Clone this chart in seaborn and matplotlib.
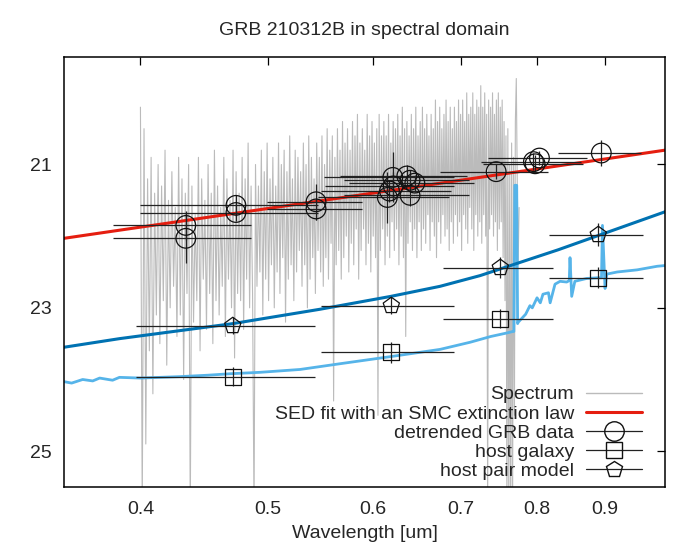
import numpy as np
import matplotlib
matplotlib.use('Agg')
import matplotlib.pyplot as plt
from matplotlib.lines import Line2D
import seaborn as sns

sns.set_theme(style='white')
plt.rcParams['font.family'] = ['Liberation Sans', 'DejaVu Sans']
plt.rcParams['font.size'] = 14

# observed spectrum (gray), evenly sampled 0.400 - 0.775 um
spec_mag = [20.2, 25.8, 20.5, 24.9, 21.2, 23.6, 20.9, 24.2, 21.4, 23.1,
            21.0, 23.5, 21.3, 22.9, 20.8, 23.8, 21.5, 23.0, 21.1, 22.7,
            21.6, 23.4, 20.9, 23.1, 21.2, 24.0, 21.4, 22.8, 21.0, 25.9,
            21.3, 23.2, 21.7, 22.9, 20.9, 23.6, 21.2, 22.6, 21.5, 23.3,
            21.0, 22.8, 21.4, 23.5, 20.8, 22.9, 21.3, 23.1, 21.6, 22.7,
            20.9, 23.4, 21.2, 22.6, 21.5, 23.0, 20.8, 23.7, 21.1, 22.8,
            21.4, 22.9, 20.9, 23.3, 21.2, 22.6, 20.7, 23.0, 21.3, 22.8,
            25.9, 21.0, 22.7, 21.3, 22.5, 20.8, 23.1, 21.1, 22.6, 20.7,
            22.9, 21.2, 22.4, 20.9, 23.0, 21.3, 22.5, 20.7, 22.8, 21.0,
            22.3, 20.8, 23.2, 21.1, 22.6, 20.6, 22.4, 21.2, 22.9, 20.8,
            22.5, 20.9, 22.2, 21.1, 22.7, 20.7, 22.4, 21.0, 23.0, 20.6,
            22.6, 20.9, 22.3, 21.2, 22.8, 20.7, 22.2, 20.9, 22.5, 20.6,
            22.7, 21.0, 22.3, 20.5, 22.6, 20.8, 22.1, 20.6, 24.3, 20.9,
            22.4, 20.5, 22.2, 20.8, 22.6, 20.4, 22.3, 20.7, 22.0, 20.5,
            22.5, 20.8, 22.1, 20.4, 22.4, 20.6, 21.9, 20.3, 22.6, 20.7,
            22.2, 20.5, 21.9, 20.8, 22.4, 20.3, 22.1, 20.6, 22.5, 20.4,
            22.0, 20.7, 22.3, 20.5, 24.5, 20.3, 22.2, 20.6, 21.9, 20.4,
            22.4, 20.6, 22.0, 20.3, 22.3, 20.7, 21.8, 20.4, 22.2, 20.5,
            21.9, 20.3, 22.4, 20.6, 22.0, 20.2, 22.3, 20.5, 23.4, 20.4,
            22.1, 20.6, 21.8, 20.3, 22.2, 20.5, 21.9, 20.2, 22.3, 20.6,
            21.8, 20.4, 22.2, 20.2, 21.9, 20.5, 22.1, 20.3, 21.7, 20.6,
            22.2, 20.3, 21.8, 20.5, 22.0, 20.1, 22.3, 20.4, 21.8, 20.2,
            22.1, 20.5, 21.7, 20.3, 22.0, 20.1, 21.9, 20.4, 22.2, 20.2,
            21.8, 20.5, 22.1, 20.2, 21.7, 20.4, 22.0, 20.1, 21.8, 20.3,
            22.2, 20.1, 21.7, 20.4, 21.9, 20.0, 22.1, 20.3, 21.6, 20.2,
            21.9, 20.0, 22.2, 20.3, 21.7, 20.1, 22.0, 20.2, 21.8, 19.9,
            22.1, 20.2, 21.7, 20.0, 22.0, 20.3, 25.8, 20.1, 21.9, 20.2,
            21.7, 20.0, 22.0, 20.3, 21.8, 20.1, 22.2, 20.0, 21.9, 20.2,
            21.8, 20.1, 22.3, 20.4, 22.9, 20.6, 25.9, 20.5, 26.0, 21.0,
            25.9, 20.7, 26.0, 20.9, 24.5, 20.4, 19.8, 21.2, 22.4, 21.6]
spec_wl = np.linspace(0.400, 0.775, len(spec_mag))

# SED fit, SMC extinction
sed_wl = [0.35, 0.60, 1.00]
sed_mag = [22.03, 21.40, 20.80]

# host pair model curve
pair_wl = [0.35, 0.3856, 0.4701, 0.5473, 0.6195, 0.675, 0.7241, 0.8298, 1.00]
pair_mag = [23.55, 23.43, 23.22, 23.02, 22.84, 22.70, 22.55, 22.19, 21.66]

# host galaxy template
gal_wl = [0.350, 0.3547, 0.3616, 0.3680, 0.3725, 0.3810, 0.3856, 0.400, 0.4285,
          0.450, 0.4676, 0.4928, 0.5286, 0.5668, 0.6195, 0.675, 0.7116, 0.7375,
          0.759, 0.7665, 0.7680, 0.7692, 0.7718, 0.7730, 0.7739, 0.7839, 0.7898,
          0.7931, 0.7997, 0.8043, 0.808, 0.8158, 0.8182, 0.8252, 0.8325, 0.8422,
          0.8460, 0.8471, 0.8496, 0.8543, 0.8722, 0.8908, 0.8950, 0.8965, 0.9006,
          0.9031, 0.9198, 0.9526, 0.9864, 1.000]
gal_mag = [24.03, 24.05, 24.00, 24.02, 23.98, 24.01, 23.97, 23.98, 23.96,
           23.94, 23.92, 23.90, 23.86, 23.78, 23.68, 23.58, 23.48, 23.40,
           23.35, 23.33, 23.33, 21.29, 21.29, 23.22, 23.20, 23.09, 22.97,
           23.00, 22.86, 22.93, 22.81, 22.79, 22.93, 22.67, 22.63, 22.64,
           22.62, 22.30, 22.84, 22.63, 22.59, 22.58, 22.58, 21.85, 22.73,
           22.53, 22.50, 22.47, 22.42, 22.41]

# detrended GRB photometry
grb_wl = [0.433, 0.433, 0.4726, 0.4726, 0.5436, 0.5436, 0.6216, 0.6157, 0.637, 0.6406,
          0.646, 0.6406, 0.622, 0.618, 0.7446, 0.7947, 0.8031, 0.797, 0.8947]
grb_mag = [21.85, 22.03, 21.57, 21.67, 21.52, 21.62, 21.18, 21.46, 21.16, 21.22,
           21.26, 21.43, 21.30, 21.37, 21.10, 20.96, 20.91, 20.99, 20.84]
grb_xerr = [0.052, 0.052, 0.073, 0.073, 0.045, 0.045, 0.07, 0.07, 0.07, 0.07,
            0.07, 0.07, 0.07, 0.07, 0.07, 0.069, 0.069, 0.069, 0.065]
grb_yerr = [0.20, 0.35, 0.15, 0.12, 0.25, 0.15, 0.35, 0.35, 0.15, 0.15,
            0.12, 0.15, 0.20, 0.15, 0.10, 0.12, 0.10, 0.12, 0.18]

# host galaxy and host pair photometry
host_wl = [0.470, 0.620, 0.750, 0.890]
host_xerr = [0.073, 0.072, 0.072, 0.073]
gal_pt_mag = [23.96, 23.62, 23.15, 22.58]
gal_pt_err = [0.13, 0.15, 0.13, 0.15]
pair_pt_mag = [23.25, 22.97, 22.44, 21.98]
pair_pt_err = [0.12, 0.12, 0.15, 0.16]

fig = plt.figure(figsize=(7, 5.5), dpi=100)
ax = fig.add_axes([64 / 700, 63 / 550, 601 / 700, 430 / 550])

sns.lineplot(x=spec_wl, y=spec_mag, ax=ax, color='#bbbbbb', lw=0.8,
             estimator=None, sort=False)
sns.lineplot(x=gal_wl, y=gal_mag, ax=ax, color='#56b4e9', lw=2.0,
             estimator=None, sort=False)
sns.lineplot(x=pair_wl, y=pair_mag, ax=ax, color='#0072b2', lw=2.2,
             estimator=None, sort=False)
sns.lineplot(x=sed_wl, y=sed_mag, ax=ax, color='#e51e10', lw=2.2,
             estimator=None, sort=False)

ekw = dict(fmt='none', ecolor='#222222', elinewidth=0.9, capsize=0, zorder=4)
ax.errorbar(grb_wl, grb_mag, xerr=grb_xerr, yerr=grb_yerr, **ekw)
ax.errorbar(host_wl, gal_pt_mag, xerr=host_xerr, yerr=gal_pt_err, **ekw)
ax.errorbar(host_wl, pair_pt_mag, xerr=host_xerr, yerr=pair_pt_err, **ekw)

mkw = dict(facecolors='none', edgecolors='#111111', linewidth=0.9, zorder=5, ax=ax)
sns.scatterplot(x=grb_wl, y=grb_mag, marker='o', s=200, **mkw)
sns.scatterplot(x=host_wl, y=gal_pt_mag, marker='s', s=130, **mkw)
sns.scatterplot(x=host_wl, y=pair_pt_mag, marker='p', s=150, **mkw)

ax.set_xscale('log')
ax.set_xlim(0.35, 1.0)
ax.set_ylim(25.5, 19.5)
xt = [0.4, 0.5, 0.6, 0.7, 0.8, 0.9]
ax.set_xticks(xt)
ax.set_xticklabels([str(v) for v in xt])
ax.xaxis.set_minor_locator(matplotlib.ticker.NullLocator())
ax.set_yticks([21, 23, 25])
ax.tick_params(axis='both', which='major', direction='in', length=6, width=0.9,
               color='black', top=True, right=True, labelsize=14)
ax.tick_params(axis='x', pad=10)
ax.tick_params(axis='y', pad=9)
for sp in ax.spines.values():
    sp.set_color('black')
    sp.set_linewidth(1.1)

ax.set_xlabel('Wavelength [um]', fontsize=14, labelpad=5)
ax.set_title('GRB 210312B in spectral domain', fontsize=14, pad=16)

handles = [
    Line2D([], [], color='#bbbbbb', lw=1.0),
    Line2D([], [], color='#e51e10', lw=2.2),
    Line2D([], [], color='#222222', lw=0.9, marker='o', ms=14, mfc='none', mec='#111111'),
    Line2D([], [], color='#222222', lw=0.9, marker='s', ms=11, mfc='none', mec='#111111'),
    Line2D([], [], color='#222222', lw=0.9, marker='p', ms=12, mfc='none', mec='#111111'),
]
labels = ['Spectrum', 'SED fit with an SMC extinction law', 'detrended GRB data',
          'host galaxy', 'host pair model']
ax.legend(handles, labels, loc='lower right', bbox_to_anchor=(0.962, 0.016),
          frameon=False, markerfirst=False, fontsize=14, handlelength=2.9,
          handletextpad=0.6, labelspacing=0.08, borderpad=0, borderaxespad=0)

fig.savefig('out.png', dpi=100)
